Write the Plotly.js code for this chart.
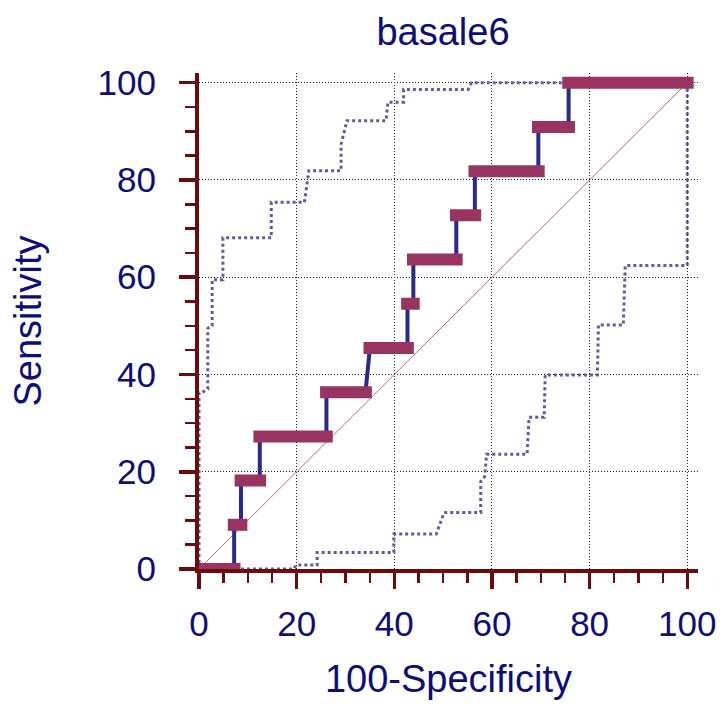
<!DOCTYPE html>
<html>
<head>
<meta charset="utf-8">
<script src="https://cdn.plot.ly/plotly-3.0.1.min.js"></script>
<style>html,body{margin:0;padding:0;background:#fff;}#chart{width:720px;height:704px;}</style>
</head>
<body>
<div id="chart"></div>
<script>
// ROC curve vertices (100-Specificity, Sensitivity)
const rocX = [0, 7.2, 7.2, 8.6, 8.6, 12.45, 12.45, 26.1, 26.1, 34.1, 35.0, 42.7, 42.7, 43.9, 43.9, 52.7, 52.7, 56.5, 56.5, 69.5, 69.5, 75.7, 75.7, 100];
const rocY = [0, 0, 9.09, 9.09, 18.18, 18.18, 27.27, 27.27, 36.36, 36.36, 45.45, 45.45, 54.55, 54.55, 63.64, 63.64, 72.73, 72.73, 81.82, 81.82, 90.91, 90.91, 100, 100];

// Upper confidence bound
const upX = [0, 0, 0.6, 1.8, 1.8, 2.7, 2.7, 4.9, 4.9, 14.8, 14.8, 21.6, 22.5, 29.1, 29.1, 30.3, 38.3, 38.7, 41.9, 41.9, 55.1, 55.8, 100];
const upY = [0, 36.3, 36.3, 37, 49.5, 50, 59.5, 59.5, 68.1, 68.1, 75.4, 75.4, 81.9, 81.9, 87.3, 92.2, 92.2, 96.0, 96.0, 98.6, 98.6, 100, 100];

// Lower confidence bound
const loX = [0, 19.5, 19.8, 24.2, 24.2, 39.9, 39.9, 48.6, 50.2, 57.7, 57.7, 58.5, 58.9, 67.2, 67.6, 70.7, 70.9, 81.6, 81.8, 86.9, 87.3, 100, 100];
const loY = [0, 0, 0.8, 0.8, 3.4, 3.4, 7.2, 7.2, 11.6, 11.6, 18, 19, 23.6, 23.6, 31.2, 31.2, 39.9, 39.9, 50.2, 50.2, 62.4, 62.4, 100];

// Diagonal reference
const diagX = [0, 100];
const diagY = [0, 100];

const tickVals = [0, 20, 40, 60, 80, 100];
const tickText = ['0', '20', '40', '60', '80', '100'];

const titleText = 'basale6';
const xTitle = '100-Specificity';
const yTitle = 'Sensitivity';

// horizontal segments of the ROC -> thick bars
const pad = 1.3;
const segX = [], segY = [];
for (let i = 0; i < rocX.length - 1; i++) {
  if (rocY[i] === rocY[i + 1]) {
    segX.push(rocX[i] - pad, rocX[i + 1] + pad, null);
    segY.push(rocY[i], rocY[i + 1], null);
  }
}

const navy = '#0c0c7c';
const axisCol = '#6e0a0a';
const fontFam = 'Liberation Sans, Arial, sans-serif';

const traces = [
  {x: diagX, y: diagY, type: 'scatter', mode: 'lines', line: {color: '#b86a6a', width: 1}, cliponaxis: false},
  {x: upX, y: upY, type: 'scatter', mode: 'lines', line: {color: '#5d5d9c', width: 3, dash: '3px,3px'}, cliponaxis: false},
  {x: loX, y: loY, type: 'scatter', mode: 'lines', line: {color: '#5d5d9c', width: 3, dash: '3px,3px'}, cliponaxis: false},
  {x: rocX, y: rocY, type: 'scatter', mode: 'lines', line: {color: '#2a2a8e', width: 4}, cliponaxis: false},
  {x: segX, y: segY, type: 'scatter', mode: 'lines', connectgaps: false, line: {color: '#993360', width: 12}, cliponaxis: false}
];

const axisCommon = {
  tickvals: tickVals, ticktext: tickText,
  ticks: 'outside', ticklen: 16, tickwidth: 3.5, tickcolor: axisCol,
  showline: true, linecolor: axisCol, linewidth: 4,
  showgrid: true, gridcolor: '#1a1a1a', gridwidth: 1, griddash: '1px,2px',
  zeroline: false, layer: 'below traces',
  tickfont: {family: fontFam, size: 35, color: navy},
  minor: {dtick: 5, tick0: 0, ticks: 'outside', ticklen: 10, tickwidth: 2.5, tickcolor: axisCol, showgrid: false},
  fixedrange: true
};

const layout = {
  width: 720, height: 704,
  margin: {l: 199, r: 21.5, t: 73.3, b: 135, pad: 0},
  paper_bgcolor: '#ffffff', plot_bgcolor: '#ffffff',
  showlegend: false,
  title: {text: titleText, font: {family: fontFam, size: 38, color: navy}, x: 443 / 720, xanchor: 'center', xref: 'container', y: 1 - 32 / 704, yref: 'container', yanchor: 'middle'},
  xaxis: Object.assign({}, axisCommon, {range: [0, 102.2], ticklabelstandoff: 5,
    title: {text: xTitle, font: {family: fontFam, size: 38, color: navy}, standoff: 24}}),
  yaxis: Object.assign({}, axisCommon, {range: [0, 102], ticklabelstandoff: 16,
    title: {text: yTitle, font: {family: fontFam, size: 38, color: navy}, standoff: 45}})
};

Plotly.newPlot('chart', traces, layout, {displayModeBar: false, staticPlot: true});
</script>
</body>
</html>
